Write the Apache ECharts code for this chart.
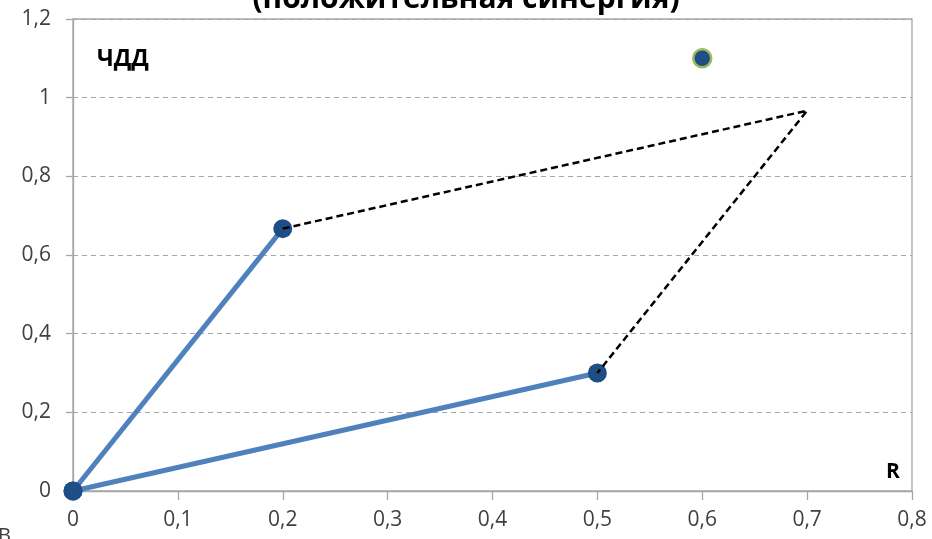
<!DOCTYPE html>
<html>
<head>
<meta charset="utf-8">
<script src="https://cdn.jsdelivr.net/npm/echarts@6/dist/echarts.min.js"></script>
<style>
  html, body { margin: 0; padding: 0; background: #fff; }
  #chart { width: 932px; height: 539px; }
</style>
</head>
<body>
<div id="chart"></div>
<script>
// Project vectors in (R, ЧДД) space and their combined result
const origin = [0, 0];
const projectA = [0.2, 0.667];
const projectB = [0.5, 0.3];
const sumPoint = [0.7, 0.967];
const synergyPoint = [0.6, 1.1];

const xTicks = ['0', '0,1', '0,2', '0,3', '0,4', '0,5', '0,6', '0,7', '0,8'];
const yTicks = ['0', '0,2', '0,4', '0,6', '0,8', '1', '1,2'];

const titleText = '(положительная синергия)';
const yName = 'ЧДД';
const xName = 'R';

const chart = echarts.init(document.getElementById('chart'), null, { renderer: 'canvas' });

const axisColor = '#a6a6a6';
const labelStyle = { color: '#404040', fontSize: 21, fontFamily: 'Open Sans' };
const markerColor = '#1f4e87';
const lineColor = '#4f81bd';

chart.setOption({
  animation: false,
  backgroundColor: '#ffffff',
  grid: {
    left: 73, right: 20, top: 19, bottom: 48,
    show: true, borderColor: axisColor, borderWidth: 1.3
  },
  xAxis: {
    type: 'value', min: 0, max: 0.8, interval: 0.1,
    axisLine: { show: true, lineStyle: { color: axisColor, width: 1.3 } },
    axisTick: { show: true, length: 9, lineStyle: { color: axisColor, width: 1.3 } },
    splitLine: { show: false },
    axisLabel: Object.assign({ margin: 19, formatter: v => xTicks[Math.round(v * 10)] }, labelStyle)
  },
  yAxis: {
    type: 'value', min: 0, max: 1.2, interval: 0.2,
    axisLine: { show: true, lineStyle: { color: axisColor, width: 1.3 } },
    axisTick: { show: true, length: 7, lineStyle: { color: axisColor, width: 1.3 } },
    splitLine: { show: true, lineStyle: { color: axisColor, type: [5, 4], width: 1 } },
    axisLabel: Object.assign({ margin: 22, formatter: v => yTicks[Math.round(v * 5)] }, labelStyle)
  },
  graphic: [
    {
      type: 'text', left: 'center', top: -16,
      style: { text: titleText, fontSize: 30, fontWeight: 'bold', fontFamily: 'Open Sans', fill: '#000' }
    },
    {
      type: 'text', left: 97, top: 48,
      style: { text: yName, fontSize: 23, fontWeight: 'bold', fontFamily: 'Open Sans', fill: '#000' }
    },
    {
      type: 'text', left: 886, top: 462,
      style: { text: xName, fontSize: 21, fontWeight: 'bold', fontFamily: 'Open Sans', fill: '#000' }
    },
    {
      type: 'text', left: -2, top: 526,
      style: { text: 'В', fontSize: 20, fontFamily: 'Open Sans', fill: '#404040' }
    }
  ],
  series: [
    {
      type: 'line', data: [origin, projectA], z: 2,
      lineStyle: { color: lineColor, width: 5 },
      symbol: 'circle', symbolSize: 19,
      itemStyle: { color: markerColor }
    },
    {
      type: 'line', data: [origin, projectB], z: 2,
      lineStyle: { color: lineColor, width: 5 },
      symbol: 'circle', symbolSize: 19,
      itemStyle: { color: markerColor }
    },
    {
      type: 'line', data: [projectA, sumPoint, projectB], z: 5,
      lineStyle: { color: '#000', width: 2.5, type: [7, 4] },
      symbol: 'none'
    },
    {
      type: 'scatter', data: [synergyPoint], z: 3,
      symbol: 'circle', symbolSize: 18,
      itemStyle: { color: markerColor, opacity: 1, borderColor: '#9bbb59', borderWidth: 2.5 }
    }
  ]
});
</script>
</body>
</html>
